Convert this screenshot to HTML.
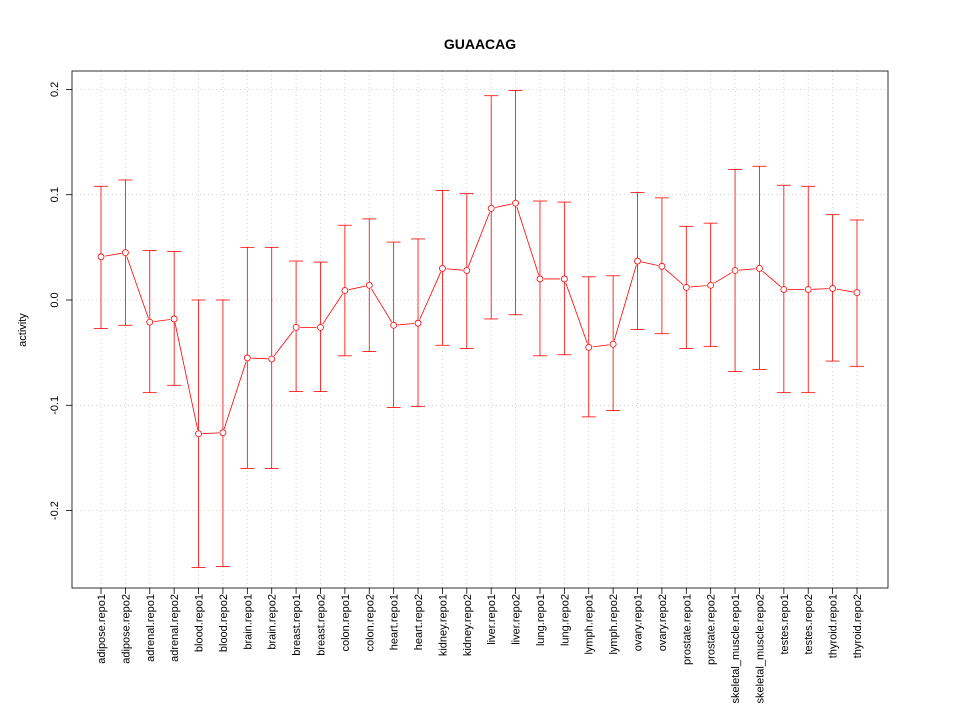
<!DOCTYPE html>
<html><head><meta charset="utf-8"><style>
body{margin:0;background:#fff;}
svg text{font-family:"Liberation Sans",sans-serif;}
</style></head><body>
<svg id="chart" width="960" height="720" xmlns="http://www.w3.org/2000/svg"></svg>
<script>
const categories=["adipose.repo1","adipose.repo2","adrenal.repo1","adrenal.repo2","blood.repo1","blood.repo2","brain.repo1","brain.repo2","breast.repo1","breast.repo2","colon.repo1","colon.repo2","heart.repo1","heart.repo2","kidney.repo1","kidney.repo2","liver.repo1","liver.repo2","lung.repo1","lung.repo2","lymph.repo1","lymph.repo2","ovary.repo1","ovary.repo2","prostate.repo1","prostate.repo2","skeletal_muscle.repo1","skeletal_muscle.repo2","testes.repo1","testes.repo2","thyroid.repo1","thyroid.repo2"];
const means=[0.041,0.045,-0.021,-0.018,-0.127,-0.126,-0.055,-0.056,-0.026,-0.026,0.009,0.014,-0.024,-0.022,0.030,0.028,0.087,0.092,0.020,0.020,-0.045,-0.042,0.037,0.032,0.012,0.014,0.028,0.030,0.010,0.010,0.011,0.007];
const uppers=[0.108,0.114,0.047,0.046,0,0,0.050,0.050,0.037,0.036,0.071,0.077,0.055,0.058,0.104,0.101,0.194,0.199,0.094,0.093,0.022,0.023,0.102,0.097,0.070,0.073,0.124,0.127,0.109,0.108,0.081,0.076];
const lowers=[-0.027,-0.024,-0.088,-0.081,-0.254,-0.253,-0.160,-0.160,-0.087,-0.087,-0.053,-0.049,-0.102,-0.101,-0.043,-0.046,-0.018,-0.014,-0.053,-0.052,-0.111,-0.105,-0.028,-0.032,-0.046,-0.044,-0.068,-0.066,-0.088,-0.088,-0.058,-0.063];
const yTicks=[-0.2,-0.1,0.0,0.1,0.2];
const yTickLabels=["-0.2","-0.1","0.0","0.1","0.2"];

const svg=document.getElementById('chart');
const NS='http://www.w3.org/2000/svg';
const L=72,R=888,T=71,B=588;
const x0=101,x1=857;
function xs(i){return x0+(x1-x0)*i/(categories.length-1);}
function ys(v){return 300-v*1053;}
function mk(tag,attrs,parent){const e=document.createElementNS(NS,tag);for(const k in attrs)e.setAttribute(k,attrs[k]);(parent||svg).appendChild(e);return e;}

const title=mk('text',{x:480,y:49,'text-anchor':'middle','font-size':14,'font-weight':'bold'});
title.textContent='GUAACAG';



const grid=mk('g',{stroke:'#c8c8c8','stroke-dasharray':'1,3','stroke-width':0.8});


categories.forEach((c,i)=>{mk('line',{x1:xs(i),x2:xs(i),y1:T,y2:B},grid);});
yTicks.forEach(v=>{mk('line',{x1:L,x2:R,y1:ys(v),y2:ys(v)},grid);});

const frame=mk('rect',{x:L,y:T,width:R-L,height:B-T,fill:'none',stroke:'#000','stroke-width':0.8});



const yaxis=mk('g',{});


yTicks.forEach((v,i)=>{
  mk('line',{x1:L-6,x2:L,y1:ys(v),y2:ys(v),stroke:'#000','stroke-width':0.8},yaxis);
  const t=mk('text',{x:L-14,y:ys(v),'font-size':11,'text-anchor':'middle',transform:`rotate(-90 ${L-14} ${ys(v)})`},yaxis);
  t.textContent=yTickLabels[i];
  
  
});
const yt=mk('text',{x:26,y:330,'font-size':11,'text-anchor':'middle',transform:'rotate(-90 26 330)'});
yt.textContent='activity';



const xaxis=mk('g',{});


categories.forEach((c,i)=>{
  mk('line',{x1:xs(i),x2:xs(i),y1:B,y2:B+6,stroke:'#000','stroke-width':0.8},xaxis);
  const t=mk('text',{x:xs(i)+4,y:594,'font-size':11,'text-anchor':'end',transform:`rotate(-90 ${xs(i)+4} 594)`},xaxis);
  t.textContent=c;
  
  
});

const series=mk('g',{stroke:'#ff0000',fill:'none','stroke-width':0.8});


categories.forEach((c,i)=>{
  const x=xs(i);
  const eb=mk('g',{},series);
  
  
  mk('line',{x1:x,x2:x,y1:ys(uppers[i]),y2:ys(lowers[i])},eb);
  mk('line',{x1:x-7,x2:x+7,y1:ys(uppers[i]),y2:ys(uppers[i])},eb);
  mk('line',{x1:x-7,x2:x+7,y1:ys(lowers[i]),y2:ys(lowers[i])},eb);
});
for(let i=0;i<categories.length-1;i++){
  const dx=xs(i+1)-xs(i),dy=ys(means[i+1])-ys(means[i]);const d=Math.hypot(dx,dy);
  if(d>8){const ux=dx/d*4,uy=dy/d*4;
    const seg=mk('line',{x1:xs(i)+ux,y1:ys(means[i])+uy,x2:xs(i+1)-ux,y2:ys(means[i+1])-uy},series);
    
    }
}
categories.forEach((c,i)=>{
  const p=mk('circle',{cx:xs(i),cy:ys(means[i]),r:3,fill:'#fff'},series);
  
  
});
</script>
</body></html>
